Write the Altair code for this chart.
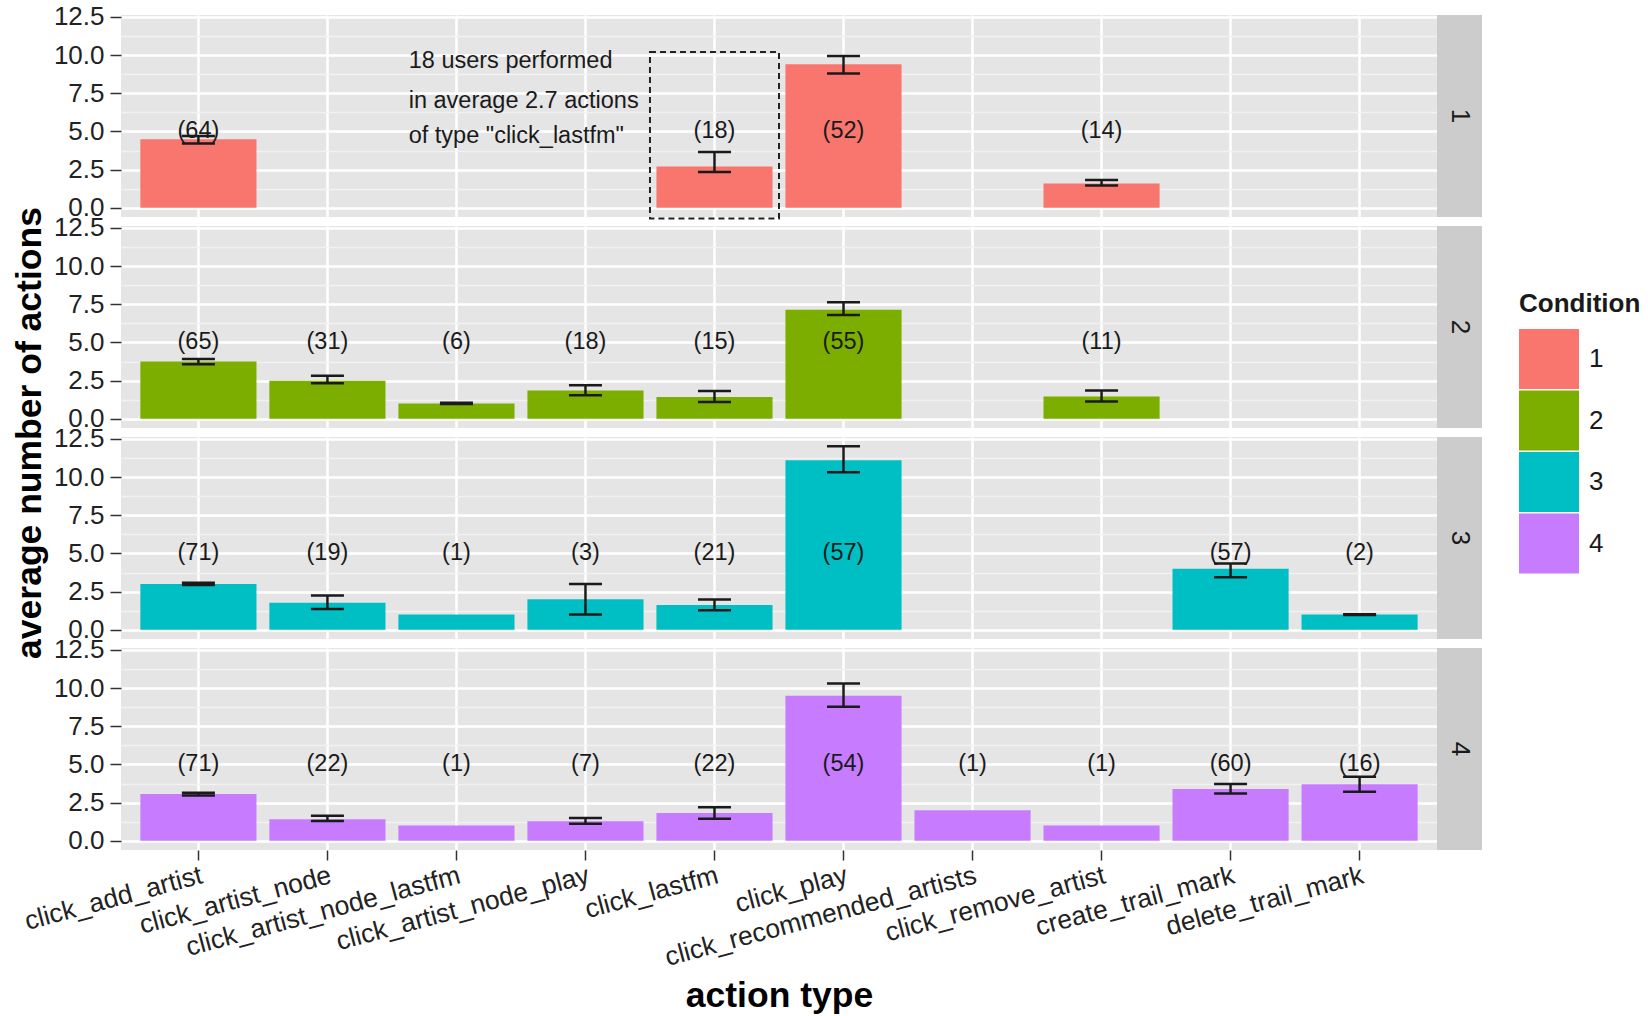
import altair as alt
import pandas as pd

# Action types on the x axis
actions = [
    "click_add_artist", "click_artist_node", "click_artist_node_lastfm",
    "click_artist_node_play", "click_lastfm", "click_play",
    "click_recommended_artists", "click_remove_artist",
    "create_trail_mark", "delete_trail_mark",
]
conditions = ["1", "2", "3", "4"]
palette = ["#F8766D", "#7CAE00", "#00BFC4", "#C77CFF"]

# Condition 1: mean actions per user, error interval, number of users
c1_action = ["click_add_artist", "click_lastfm", "click_play", "click_remove_artist"]
c1_mean = [4.5, 2.7, 9.4, 1.6]
c1_low = [4.22, 2.35, 8.8, 1.47]
c1_high = [4.7, 3.65, 9.95, 1.83]
c1_users = [64, 18, 52, 14]

# Condition 2
c2_action = ["click_add_artist", "click_artist_node", "click_artist_node_lastfm",
             "click_artist_node_play", "click_lastfm", "click_play", "click_remove_artist"]
c2_mean = [3.75, 2.5, 1.0, 1.85, 1.43, 7.15, 1.47]
c2_low = [3.57, 2.33, 0.97, 1.55, 1.1, 6.8, 1.13]
c2_high = [3.92, 2.83, 1.05, 2.2, 1.82, 7.63, 1.85]
c2_users = [65, 31, 6, 18, 15, 55, 11]

# Condition 3
c3_action = ["click_add_artist", "click_artist_node", "click_artist_node_lastfm",
             "click_artist_node_play", "click_lastfm", "click_play",
             "create_trail_mark", "delete_trail_mark"]
c3_mean = [3.0, 1.77, 1.0, 2.0, 1.63, 11.1, 4.0, 1.0]
c3_low = [2.93, 1.37, None, 1.0, 1.28, 10.32, 3.45, 0.98]
c3_high = [3.08, 2.25, None, 3.0, 1.98, 12.03, 4.35, 1.02]
c3_users = [71, 19, 1, 3, 21, 57, 57, 2]

# Condition 4
c4_action = list(actions)
c4_mean = [3.07, 1.42, 1.0, 1.29, 1.83, 9.5, 2.0, 1.0, 3.4, 3.7]
c4_low = [2.97, 1.3, None, 1.12, 1.45, 8.78, None, None, 3.1, 3.22]
c4_high = [3.15, 1.65, None, 1.5, 2.2, 10.3, None, None, 3.72, 4.2]
c4_users = [71, 22, 1, 7, 22, 54, 1, 1, 60, 16]

# Annotation for the click_lastfm bar of condition 1
note_lines = ['18 users performed', 'in average 2.7 actions', 'of type "click_lastfm"']
note_y = [9.6, 7.0, 4.7]
box_action = ["click_lastfm"]
box_top = [10.2]
box_bottom = [-0.7]

y_ticks = [0.0, 2.5, 5.0, 7.5, 10.0, 12.5]
y_minor = [1.25, 3.75, 6.25, 8.75, 11.25]
label_y = 5.0

W, H = 1316, 202
STRIP = 45
FONT = "Liberation Sans"
INK = "#1a1a1a"


def frame(cond, act, mean, low, high, users):
    return pd.DataFrame({
        "condition": cond,
        "action": act,
        "mean": mean,
        "low": low,
        "high": high,
        "users": users,
        "label": [f"({u})" for u in users],
    })


tables = {
    "1": frame("1", c1_action, c1_mean, c1_low, c1_high, c1_users),
    "2": frame("2", c2_action, c2_mean, c2_low, c2_high, c2_users),
    "3": frame("3", c3_action, c3_mean, c3_low, c3_high, c3_users),
    "4": frame("4", c4_action, c4_mean, c4_low, c4_high, c4_users),
}

x_scale = alt.Scale(domain=actions, paddingInner=0, paddingOuter=0.1)
y_scale = alt.Scale(domain=[-0.6, 12.63], nice=False, zero=False)

color = alt.Color(
    "condition:N",
    scale=alt.Scale(domain=conditions, range=palette),
    legend=alt.Legend(
        title="Condition", orient="none", legendX=1398, legendY=276,
        symbolType="square", symbolSize=3600, symbolStrokeWidth=0,
        titleFontSize=26, titleFontWeight="bold", titleColor=INK, titleFont=FONT,
        labelFontSize=26, labelColor=INK, labelFont=FONT, labelOffset=10,
        rowPadding=1.5, titlePadding=12,
    ),
)


def x_axis(bottom):
    if bottom:
        return alt.Axis(
            title="action type", labelAngle=345, labelAlign="right", labelBaseline="top",
            labelFontSize=26.5, labelColor="#222222", labelPadding=2, labelOverlap=False,
            labelLimit=0,
            tickSize=10, tickColor="#333333", tickWidth=1.5, domain=False,
            grid=True, gridColor="white", gridWidth=2.5,
            titleFontSize=35.5, titleFontWeight="bold", titleColor="black", titlePadding=8,
        )
    return alt.Axis(labels=False, ticks=False, domain=False, title=None,
                    grid=True, gridColor="white", gridWidth=2.5)


def panel(cond, bottom=False, y_title=False, note=False):
    data = tables[cond]
    base = alt.Chart(data)

    def X(band=None):
        if band is None:
            return alt.X("action:N", scale=x_scale, axis=x_axis(bottom))
        return alt.X("action:N", scale=x_scale, axis=x_axis(bottom), bandPosition=band)

    minor_axis = alt.Axis(values=y_minor, labels=False, ticks=False, domain=False,
                          title=None, grid=True, gridColor="#F2F2F2", gridWidth=1.5,
                          orient="left")
    main_kwargs = dict(
        values=y_ticks, format=".1f", labelFontSize=26, labelColor="#222222",
        tickSize=11, tickColor="#333333", tickWidth=1.5, labelPadding=6,
        domain=False, grid=True, gridColor="white", gridWidth=2.5, orient="left",
    )
    if y_title:
        main_axis = alt.Axis(title="average number of actions", titleFontSize=35.5,
                             titleFontWeight="bold", titleColor="black",
                             titleY=(4 * H + 27) / 2 - (H + 9), titlePadding=6,
                             **main_kwargs)
    else:
        main_axis = alt.Axis(title=None, **main_kwargs)

    bars = base.mark_bar(width=alt.RelativeBandSize(0.9)).encode(
        x=X(),
        y=alt.Y("mean:Q", scale=y_scale, axis=minor_axis),
        y2=alt.datum(0),
        color=color,
    )
    errs = base.transform_filter("isValid(datum.low)")
    err_line = errs.mark_rule(strokeWidth=2.5, color=INK).encode(
        x=X(),
        y=alt.Y("low:Q", scale=y_scale, axis=main_axis),
        y2="high:Q",
    )
    cap_low = errs.mark_tick(size=33, thickness=2.5, color=INK, opacity=1).encode(
        x=X(), y=alt.Y("low:Q", scale=y_scale, axis=None))
    cap_high = errs.mark_tick(size=33, thickness=2.5, color=INK, opacity=1).encode(
        x=X(), y=alt.Y("high:Q", scale=y_scale, axis=None))
    labels = base.mark_text(fontSize=23.5, color=INK, font=FONT).encode(
        x=X(), y=alt.Y(datum=label_y, scale=y_scale, axis=None), text="label:N")

    strip_df = pd.DataFrame({"condition": [cond]})
    strip_bg = alt.Chart(strip_df).mark_rect(color="#CCCCCC").encode(
        x=alt.value(W), x2=alt.value(W + STRIP), y=alt.value(0), y2=alt.value(H))
    strip_txt = alt.Chart(strip_df).mark_text(angle=90, fontSize=26, color=INK, font=FONT).encode(
        x=alt.value(W + STRIP / 2), y=alt.value(H / 2), text="condition:N")

    layers = [bars, err_line, cap_low, cap_high, labels]
    if note:
        note_df = pd.DataFrame({"action": ["click_artist_node_lastfm"] * 3,
                                "line": note_lines, "y": note_y})
        note_txt = alt.Chart(note_df).mark_text(align="left", fontSize=23.5, color=INK,
                                                font=FONT).encode(
            x=X(0.13), y=alt.Y("y:Q", scale=y_scale, axis=None), text="line:N")
        box_df = pd.DataFrame({"action": box_action, "top": box_top, "bottom": box_bottom})
        box = alt.Chart(box_df).mark_rect(fill="transparent", stroke="#222222",
                                          strokeDash=[6, 4], strokeWidth=2).encode(
            x=X(), y=alt.Y("top:Q", scale=y_scale, axis=None), y2="bottom:Q")
        layers += [note_txt, box]
    layers += [strip_bg, strip_txt]

    return alt.layer(*layers).resolve_axis(y="independent").properties(width=W, height=H)


chart = alt.vconcat(
    panel("1", note=True),
    panel("2", y_title=True),
    panel("3"),
    panel("4", bottom=True),
    spacing=9,
    bounds="flush",
).configure(
    font=FONT,
    padding={"left": 12, "top": 3, "right": 0, "bottom": 0},
).configure_view(
    stroke=None, fill="#E5E5E5",
).configure_axis(
    labelFont=FONT, titleFont=FONT,
)

chart.save("out.html", embed_options={"renderer": "svg", "actions": False})
